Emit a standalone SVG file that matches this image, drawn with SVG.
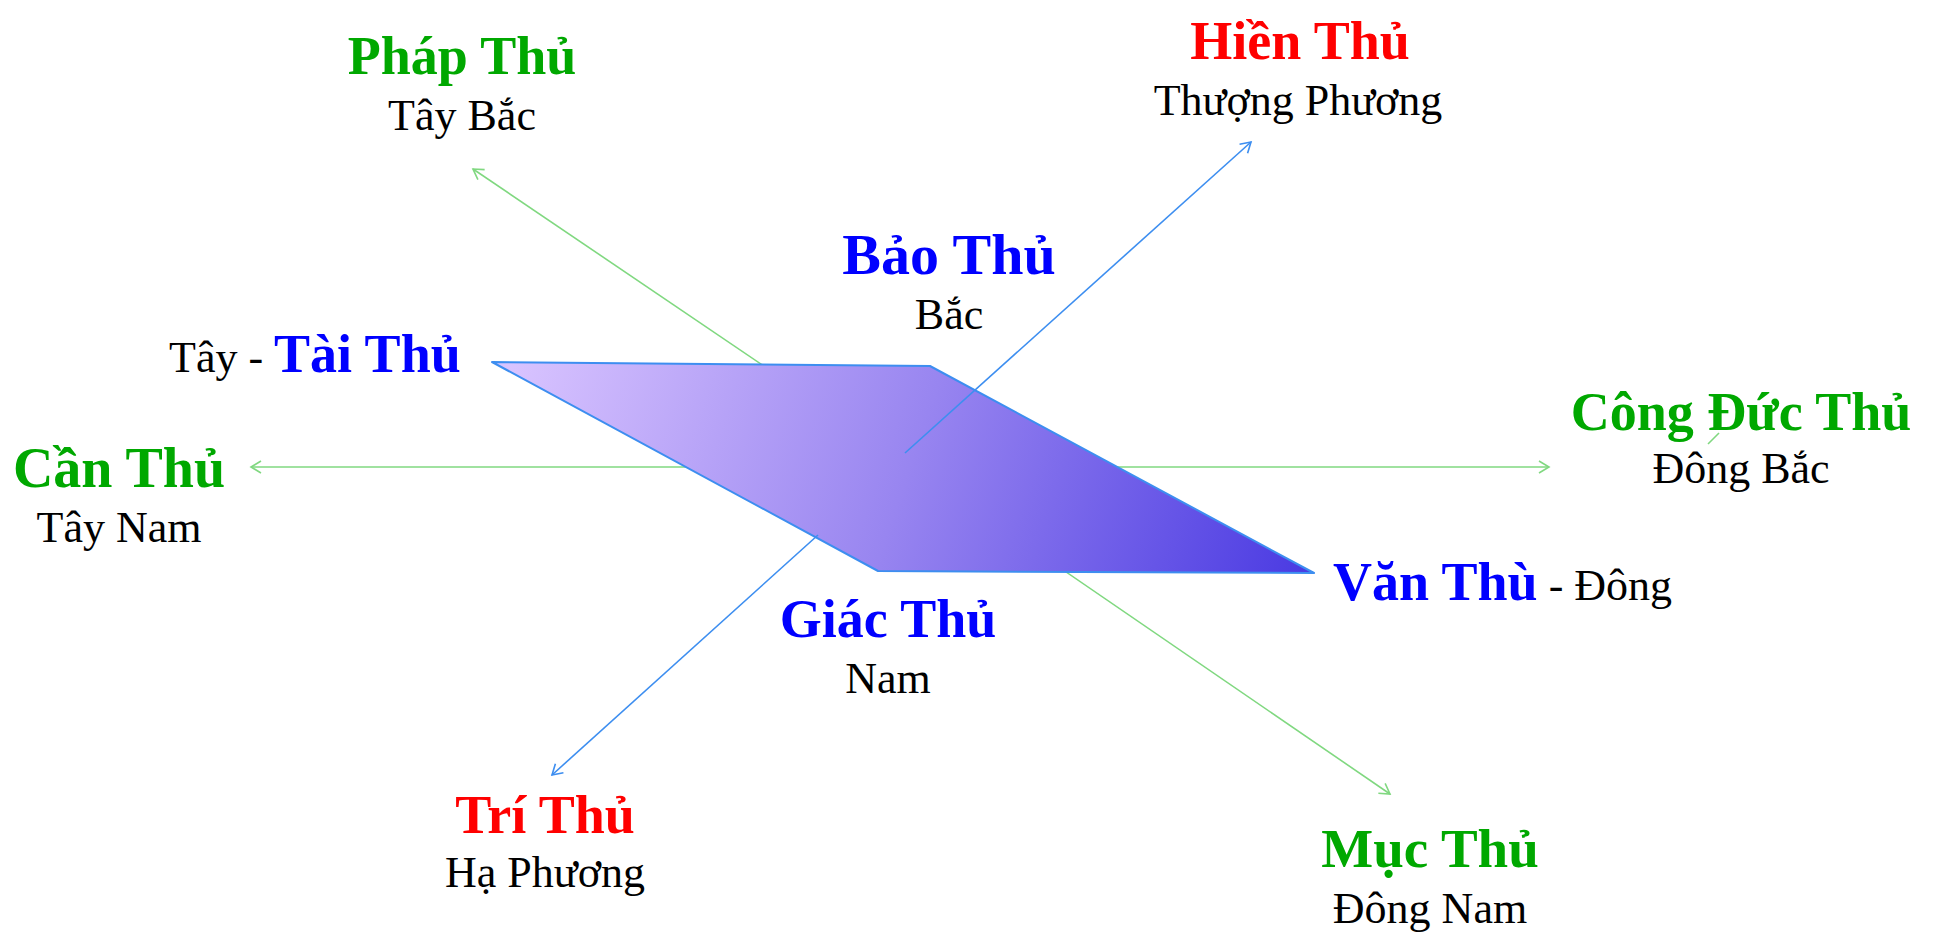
<svg xmlns="http://www.w3.org/2000/svg" width="1939" height="933" viewBox="0 0 1939 933">
<style>
.t{font-family:"Liberation Serif","Times New Roman",serif}
.b{font-weight:bold;font-size:54px}
.r{font-size:44px;fill:#000}
.g{fill:#00a800}
.bl{fill:#0000ff}
.rd{fill:#ff0000}
.gl{stroke:#80d880;stroke-width:1.6;fill:none}
.bll{stroke:#3d8ef0;stroke-width:1.6;fill:none}
</style>
<defs>
<marker id="ag" markerWidth="14" markerHeight="14" refX="11" refY="7" orient="auto" markerUnits="userSpaceOnUse">
<path d="M1,1 L11,7 L1,13" fill="none" stroke="#80d880" stroke-width="1.6"/>
</marker>
<marker id="ab" markerWidth="14" markerHeight="14" refX="11" refY="7" orient="auto" markerUnits="userSpaceOnUse">
<path d="M1,1 L11,7 L1,13" fill="none" stroke="#3d8ef0" stroke-width="1.6"/>
</marker>
<linearGradient id="pg" gradientUnits="userSpaceOnUse" x1="520" y1="330" x2="1300" y2="600">
<stop offset="0" stop-color="#d9c4ff"/>
<stop offset="0.5" stop-color="#9885f0"/>
<stop offset="1" stop-color="#4a3ae2"/>
</linearGradient>
</defs>
<g id="connectors-back">
<line class="gl" x1="910" y1="465" x2="473" y2="169" marker-end="url(#ag)"/>
<line class="gl" x1="905" y1="467" x2="251" y2="467" marker-end="url(#ag)"/>
<line class="gl" x1="905" y1="467" x2="1549" y2="467" marker-end="url(#ag)"/>
<line class="gl" x1="910" y1="465" x2="1390" y2="794" marker-end="url(#ag)"/>
<line class="gl" x1="1708" y1="444" x2="1719" y2="433"/>
</g>
<g id="plane">
<polygon points="492,362 930,366 1314,573 878,571" fill="url(#pg)" stroke="#3d8ef0" stroke-width="2" stroke-linejoin="round"/>
</g>
<g id="connectors">
<line class="bll" x1="905" y1="453" x2="1251" y2="142" marker-end="url(#ab)"/>
<line class="bll" x1="818" y1="535" x2="552" y2="775" marker-end="url(#ab)"/>
</g>
<g id="phap-thu">
<text class="t b g" x="462" y="74" text-anchor="middle">Pháp Thủ</text>
<text class="t r" x="462" y="130" text-anchor="middle">Tây Bắc</text>
</g>
<g id="hien-thu">
<text class="t b rd" x="1300" y="59" text-anchor="middle">Hiền Thủ</text>
<text class="t r" x="1298" y="115" text-anchor="middle">Thượng Phương</text>
</g>
<g id="bao-thu">
<text class="t b bl" x="949" y="274" text-anchor="middle" style="font-size:58px">Bảo Thủ</text>
<text class="t r" x="949" y="329" text-anchor="middle">Bắc</text>
</g>
<g id="tai-thu">
<text class="t" x="169" y="372"><tspan class="r">Tây - </tspan><tspan class="b bl">Tài Thủ</tspan></text>
</g>
<g id="can-thu">
<text class="t b g" x="119" y="487" text-anchor="middle" style="font-size:56px">Cần Thủ</text>
<text class="t r" x="119" y="542" text-anchor="middle">Tây Nam</text>
</g>
<g id="cong-duc-thu">
<text class="t b g" x="1741" y="430" text-anchor="middle">Công Đức Thủ</text>
<text class="t r" x="1741" y="483" text-anchor="middle">Đông Bắc</text>
</g>
<g id="van-thu">
<text class="t" x="1333" y="600"><tspan class="b bl">Văn Thù</tspan><tspan class="r"> - Đông</tspan></text>
</g>
<g id="giac-thu">
<text class="t b bl" x="888" y="637" text-anchor="middle">Giác Thủ</text>
<text class="t r" x="888" y="693" text-anchor="middle">Nam</text>
</g>
<g id="tri-thu">
<text class="t b rd" x="545" y="833" text-anchor="middle">Trí Thủ</text>
<text class="t r" x="545" y="887" text-anchor="middle">Hạ Phương</text>
</g>
<g id="muc-thu">
<text class="t b g" x="1430" y="867" text-anchor="middle" style="font-size:55px">Mục Thủ</text>
<text class="t r" x="1430" y="923" text-anchor="middle">Đông Nam</text>
</g>
</svg>
